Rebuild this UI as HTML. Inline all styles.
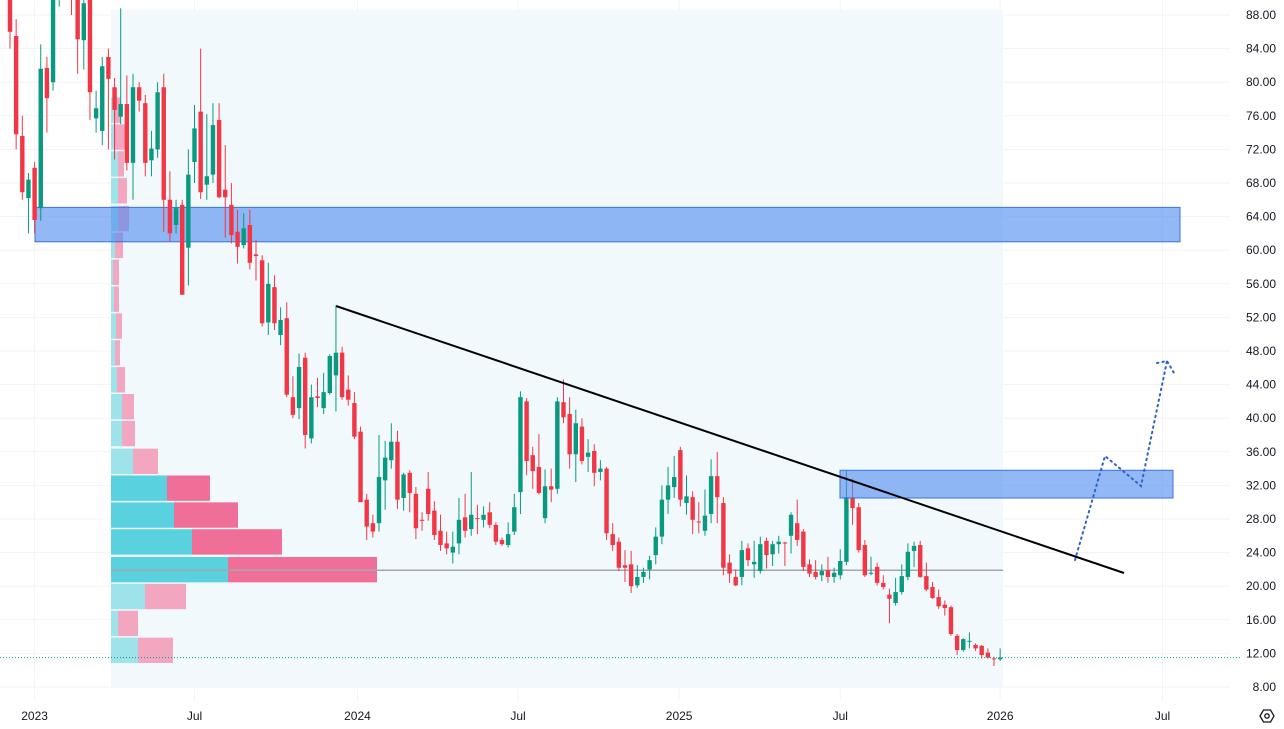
<!DOCTYPE html>
<html><head><meta charset="utf-8"><style>
html,body{margin:0;padding:0;background:#fff;}
svg{display:block;font-family:"Liberation Sans",sans-serif;}
</style></head><body>
<svg id="chart" width="1284" height="729" viewBox="0 0 1284 729" xmlns="http://www.w3.org/2000/svg">
<rect x="0" y="0" width="1284" height="729" fill="#ffffff"/>
<g id="grid"></g>
<rect x="111" y="10" width="892" height="677" fill="#f1f9fd"/>
<g id="vp"></g>
<g id="candles"></g>
<g id="draw"></g>
<g id="yaxis"></g>
<g id="xaxis"></g>
<g transform="translate(1267,716)">
<polygon points="-7,0 -3.5,-6 3.5,-6 7,0 3.5,6 -3.5,6" fill="none" stroke="#131722" stroke-width="1.3"/>
<circle r="2.2" fill="none" stroke="#131722" stroke-width="1.3"/>
</g>
</svg>
<script>
const opens=[92,85.5,73.6,66.2,69.8,65,81.7,80,91,94,92,90,85,90,75.7,74.2,83,79.4,75.9,77.4,70.4,79.4,77.5,70.7,72,79.4,66,63,65.4,60.3,70.5,76.5,67.8,69,75.5,67.2,65.4,62.2,60.6,63,59.5,58.8,51.4,55.6,49.9,51.9,42.5,41.2,47.2,37.6,42.6,41.2,43,45.1,47.8,43.4,41.8,38.4,30.3,27.5,27.5,32.6,35,37.2,30.5,33.5,31,27.9,31.6,29,26.6,25.1,24,25.1,28.2,26.8,28.1,27.9,28.8,27.3,25.5,24.9,26.5,31.2,42,35.6,34.2,28.1,31.9,31.6,41.9,40.5,35.7,39,35.4,36.1,33.6,34,26.2,25.3,22.5,22.6,20.1,21.1,22,23.7,25.9,30.3,31.8,36.2,29.9,30.6,27.7,26.6,28.6,33.1,29.9,22.8,21.1,21.1,24.5,22.6,21.8,25.4,23.8,25,25.2,26,27.5,26.5,22.6,21.7,21.3,21.9,21.1,21.3,22.9,30.6,29.4,24.9,21.6,22.3,20.4,19,18,19.3,21.1,24.2,24.9,21.2,19.9,18.7,17.8,17.5,14.1,12.4,13.4,13,12.9,12.1,11.4,11.3];
const highs=[94,87.5,76,69.2,70.5,84.5,83,95,97,97,95,92,90,92,79,83,84,80.5,88.8,80.8,81,80,78.5,74.2,80,81,69.4,66,66,72,77.3,84,76.2,77.5,77.5,72.5,68,64.8,64.4,64.8,61.2,59.4,58.5,57,53.2,53.8,45,47.7,47.8,44,44.8,45.4,47.6,53.4,48.5,45.1,43.1,39,31,28.5,38,37.3,39.4,38.5,33.5,33.8,31.8,28.8,33.6,30.1,28.5,26.5,26.5,30.5,31,33.6,29.7,29.5,30,27.6,25.8,27.6,31,43.2,42.4,36.6,38.1,33.9,34,42.5,44.6,42.5,41,40,37.5,36.9,35,34.2,27.5,25.8,24.3,24.2,22.5,22.2,23.6,27,32,34.2,35.5,36.6,33.2,31.3,30,31.5,35.1,36,30.6,23.8,22,25.4,25.1,25.4,25.9,25.8,25.4,26,25.3,28.8,30.3,26.8,23.2,23.1,22.6,23.5,22.2,24.4,33.8,32.8,29.9,25.5,23.5,22.8,21.3,19.7,21,22.6,25.1,25.3,25.4,22.8,20.5,19.6,18.3,17.7,14.3,13.8,14.5,13.2,13,12.6,11.6,12.6];
const lows=[84,72,66,62,62,63.5,74,79,89,90,88,81,81.5,75.5,74,72.5,72,70.8,75,69.5,66,76.5,68.8,68.8,71,62.2,61,62,54.7,55.8,68,66.1,66,68,66.2,61.5,60.8,58.4,60.2,57.7,56.4,50.9,49.9,50.5,48.7,42.5,40,39.9,36.4,37,41.3,40.5,42.8,40.8,42.2,41.5,37.5,30,25.5,25.8,26.5,29.1,34,29.2,29,28.8,25.6,26.6,27.8,25.5,24.2,23.8,22.7,23.8,25.8,26,26.2,27,26.9,24.9,24.8,24.6,26.1,28.6,33.2,31.6,30.9,27.5,30,31,39.4,34,32.4,34.5,33.6,31.9,32.6,25.5,24.2,21.8,20.5,19.2,19.8,20.4,20.8,22.6,25,28.6,30.5,29.5,28.5,26.2,26.3,26,27.5,27.5,21.3,20.4,20,20.1,22.4,21,21.5,22.1,22.4,23.9,22.4,23.9,24.8,21.8,21.1,20.8,20.6,20.4,20.4,20.8,22.5,27.3,24,21.1,21.3,20.1,19.6,15.6,17.7,19,20.7,22.3,21,19.4,18.5,17.3,16.5,14.1,11.8,12.2,12.6,12.3,11.4,11.4,10.5,11.1];
const closes=[86,73.8,66.9,68.4,63.6,81.6,78.1,91,94,92,90,85.1,89.4,78.8,76.9,81.9,80.4,76.7,77.4,70.4,79.4,77.8,70.4,72.1,78.8,66,62,65,54.7,69,74.5,66.9,68.8,74.9,66.3,66.3,61.8,60.4,62.6,58.5,59.3,51.3,56,51.3,51.7,42.8,40.4,46.1,38,42.5,42.4,43.1,47.4,47.8,42.5,42.2,37.8,30,27.1,26.5,33,35.3,37.2,30.3,33.3,31.1,26.9,27.8,28.6,26.1,24.9,24.5,24.7,27.9,26.6,28.5,28,28.5,27.3,25.3,25,26.2,29.4,42.5,34.9,33.7,31.1,31.9,31.5,42,40.1,35.7,39.4,34.9,35.9,33.5,34,26.3,24.9,22.2,22.2,20,21.1,21.7,23.1,25.9,30.3,32,33,30.3,30.7,27.9,27.6,28.4,33.1,30.6,22.2,21.5,20.1,24.3,23.1,22.9,25,23.7,25,25.3,25.1,28.5,25.5,22.3,21.5,21.1,21.8,21.1,21.6,23,30.6,29.3,24.3,21.3,21.6,20.4,19.9,18.5,19.3,21.2,24.1,24.8,21.1,19.6,18.6,17.6,17.4,14.3,12.4,13.7,13.5,12.6,11.8,11.5,11.3,11.5];
const yTicks=[88,84,80,76,72,68,64,60,56,52,48,44,40,36,32,28,24,20,16,12,8];
const xTickLabels=["2023","Jul","2024","Jul","2025","Jul","2026","Jul"];
const xTickWeeks=[4,30,56.5,82.6,108.8,135,161,187.4];
const vpUp=[27,7,34,117,81,63,56,22,11,11,6,4,5,3,2,4,7,7,7,3,3];
const vpDown=[35,20,41,149,90,64,43,25,13,12,8,5,6,5,6,8,11,9,6,11,7];
const vpBinLow=[10.8,14.0,17.2,20.4,23.7,26.9,30.1,33.3,36.6,39.8,43.0,46.2,49.4,52.6,55.8,59.0,62.2,65.5,68.7,71.9,75.1];
const pocPrice=21.9;
const zone1=[61,65.1];
const zone2=[30.5,33.8];
const lastPrice=11.5;

const NS="http://www.w3.org/2000/svg";
function yS(v){return 687-(v-8)*8.4;}
function xS(i){return 10+i*6.15;}
function mk(tag,attrs,parent){const e=document.createElementNS(NS,tag);for(const k in attrs)e.setAttribute(k,attrs[k]);parent.appendChild(e);return e;}
const grid=document.getElementById('grid'),vp=document.getElementById('vp'),cg=document.getElementById('candles'),dg=document.getElementById('draw'),ya=document.getElementById('yaxis'),xa=document.getElementById('xaxis');

yTicks.forEach(v=>{
  const l=mk('line',{x1:0,x2:1230,y1:yS(v),y2:yS(v),stroke:'#f0f3fa','stroke-width':1},grid);
  
  
  const t=mk('text',{x:1276,y:yS(v)+4,'text-anchor':'end','font-size':12,fill:'#131722'},ya);
  t.textContent=v.toFixed(2);
  
  
});
xTickWeeks.forEach((w,k)=>{
  const x=xS(w);
  const l=mk('line',{x1:x,x2:x,y1:0,y2:700,stroke:'#f0f3fa','stroke-width':1},grid);
  
  
  const t=mk('text',{x:x,y:720,'text-anchor':'middle','font-size':12,fill:'#131722'},xa);
  t.textContent=xTickLabels[k];
  
  
});

const binH=(vpBinLow[1]-vpBinLow[0])*8.4;
vpUp.forEach((u,i)=>{
  const d=vpDown[i];
  const inVA=vpBinLow[i]>=20&&vpBinLow[i]<33;
  const top=yS(vpBinLow[i])-binH+1;
  const r1=mk('rect',{x:111,y:top,width:u,height:binH-1.5,fill:inVA?'#5ad1df':'#9fe3ea'},vp);
  
  
  const r2=mk('rect',{x:111+u,y:top,width:d,height:binH-1.5,fill:inVA?'#ef6f99':'#f2a6bf'},vp);
  
  
});
const poc=mk('line',{x1:111,x2:1003,y1:yS(pocPrice),y2:yS(pocPrice),stroke:'#a3a6af','stroke-width':1.5},vp);



const z1=mk('rect',{x:35,y:yS(zone1[1]),width:1145,height:yS(zone1[0])-yS(zone1[1]),fill:'rgba(80,140,240,0.62)',stroke:'#3d72d9','stroke-width':1},cg);



closes.forEach((c,i)=>{
  const o=opens[i],h=highs[i],l=lows[i];
  const up=c>=o;const col=up?'#089981':'#f23645';
  const x=xS(i);
  const w=mk('line',{x1:x,x2:x,y1:yS(h),y2:yS(l),stroke:col,'stroke-width':1},cg);
  
  
  const t=yS(Math.max(o,c)),b=yS(Math.min(o,c));
  const r=mk('rect',{x:x-2.2,y:t,width:4.4,height:Math.max(1,b-t),fill:col},cg);
  
  
});

const z2=mk('rect',{x:840,y:yS(zone2[1]),width:333,height:yS(zone2[0])-yS(zone2[1]),fill:'rgba(80,140,240,0.62)',stroke:'#3d72d9','stroke-width':1},dg);


const tl=mk('line',{x1:336,y1:306,x2:1124,y2:573,stroke:'#000','stroke-width':2},dg);


const pp=mk('polyline',{points:'1075,560 1105,456 1141,486 1167,361',fill:'none',stroke:'#2f62c9','stroke-width':2,'stroke-dasharray':'1.5,4','stroke-linecap':'round'},dg);


const ah=mk('polyline',{points:'1157,363 1167,361 1174,373',fill:'none',stroke:'#2f62c9','stroke-width':2,'stroke-dasharray':'1.5,4','stroke-linecap':'round'},dg);


const lp=mk('line',{x1:0,x2:1240,y1:yS(lastPrice),y2:yS(lastPrice),stroke:'#089981','stroke-width':1,'stroke-dasharray':'1,2'},dg);


</script>
</body></html>
